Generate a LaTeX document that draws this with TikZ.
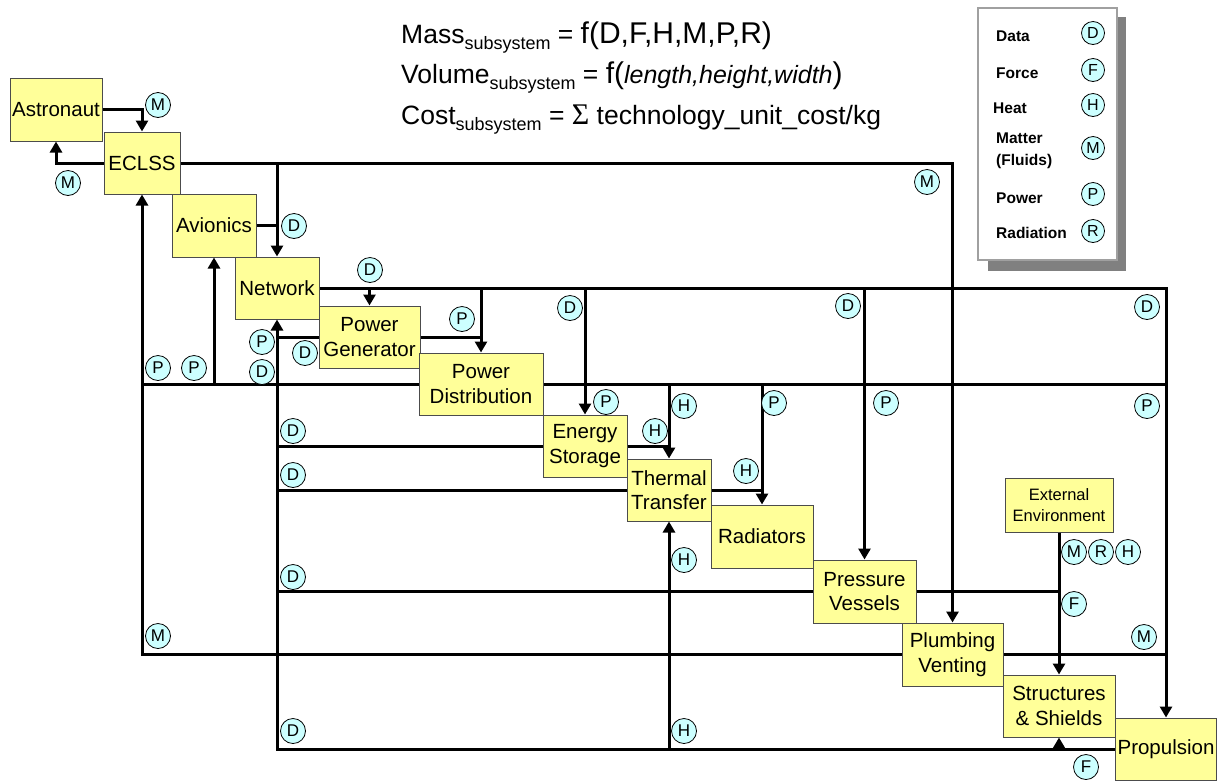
\documentclass[tikz,border=0pt]{standalone}
\usepackage{fontspec}
\setmainfont{Liberation Sans}
\newfontfamily\sigmafont{Liberation Serif}
\usetikzlibrary{arrows.meta}
\definecolor{byellow}{HTML}{FFFF99}
\definecolor{scyan}{HTML}{CCFFFF}
\definecolor{lgray}{HTML}{A0A0A0}
\definecolor{sgray}{HTML}{808080}
\newcommand{\subsys}{\raisebox{-6pt}{\fontsize{18}{18}\selectfont subsystem}}
\newcommand{\fbig}[1]{{\fontsize{30}{30}\selectfont #1}}
\tikzset{blk/.style = {draw=black!70, line width=1, fill=byellow, inner sep=1, align=center, font=\fontsize{20.5}{24.5}\selectfont}}
\tikzset{sig/.style = {draw, circle, fill=scyan, line width=0.8, inner sep=0, minimum size=25, font=\fontsize{17}{17}\selectfont}}
\tikzset{legsig/.style = {sig, minimum size=23, font=\fontsize{16}{16}\selectfont}}
\tikzset{legtxt/.style = {anchor=west, inner sep=0, align=left, font=\fontsize{15.5}{22}\selectfont\bfseries}}
\tikzset{formula/.style = {anchor=base west, inner sep=0, font=\fontsize{26.5}{26.5}\selectfont}}
\tikzset{conn/.style = {line width=3}}
\tikzset{arr/.style = {conn, -{Triangle[width=12pt, length=11pt]}}}

\begin{document}
\begin{tikzpicture}[x=1pt, y=-1pt]
    \useasboundingbox (0, 0) rectangle (1225, 780);

    \node [formula] (massf) at (401, 43) {Mass\subsys{} = \fbig{f(D,F,H,M,P,R)}};
    \node [formula] (volf) at (401, 83) {Volume\subsys{} = \fbig{f(}{\fontsize{25}{25}\selectfont\itshape length,height,width}\fbig{)}};
    \node [formula] (costf) at (401, 124) {Cost\subsys{} = \fbig{\sigmafont Σ} technology\_unit\_cost/kg};

    \fill [sgray] (988, 17) rectangle (1126, 271);
    \draw [lgray, line width=1.5, fill=white] (978, 8) rectangle (1117, 260);
    \foreach \nm/\txt/\ltr/\xx/\yy/\cy in {data/Data/D/996/36/33, force/Force/F/996/73/70, heat/Heat/H/993/108/105, matter/{Matter\\(Fluids)}/M/996/151/148, power/Power/P/996/198/194, rad/Radiation/R/996/233/231}{
      \node [legtxt] (leg-\nm) at (\xx, \yy) {\txt};
      \node [legsig] (legc-\nm) at (1093, \cy) {\ltr};
    }

    \node [blk, minimum width=92, minimum height=63] (astro) at (56, 109.5) {Astronaut};
    \node [blk, minimum width=76, minimum height=62] (eclss) at (142, 163) {ECLSS};
    \node [blk, minimum width=84, minimum height=63] (avion) at (214, 225.5) {Avionics};
    \node [blk, minimum width=84, minimum height=62] (netw) at (277, 288) {Network};
    \node [blk, minimum width=101, minimum height=62] (pgen) at (369.5, 337) {Power\\Generator};
    \node [blk, minimum width=124, minimum height=62] (pdist) at (481, 384) {Power\\Distribution};
    \node [blk, minimum width=84, minimum height=62] (estor) at (585, 446) {Energy\\Storage};
    \node [blk, minimum width=84, minimum height=62] (therm) at (669, 490) {Thermal\\Transfer};
    \node [blk, minimum width=102, minimum height=63] (radi) at (762, 536.5) {Radiators};
    \node [blk, minimum width=103, minimum height=63] (press) at (864.5, 591.5) {Pressure\\Vessels};
    \node [blk, minimum width=101, minimum height=63] (plumb) at (952.5, 654.5) {Plumbing\\Venting};
    \node [blk, minimum width=112, minimum height=62] (struc) at (1059, 706) {Structures\\\& Shields};
    \node [blk, minimum width=101, minimum height=62] (prop) at (1166, 749) {Propulsion};
    \node [blk, minimum width=108, minimum height=54, font=\fontsize{16.5}{21}\selectfont] (extenv) at (1059, 505) {External\\Environment};

    \draw [arr] (astro.east) -| (eclss.north);
    \draw [arr] (eclss.west) -| (astro.south);
    \draw [arr] (eclss.east) -| (plumb.north);
    \draw [arr] (eclss.east -| netw.north) -- (netw.north);
    \draw [conn] (avion.east) -- (avion.east -| netw.north);
    \draw [arr] (netw.east) -| (prop.north);
    \foreach \dst in {pgen, pdist, estor, press}{
      \draw [arr] (netw.east -| \dst.north) -- (\dst.north);
    }
    \draw [conn] (pgen.east) -- (pgen.east -| pdist.north);
    \draw [conn] (pdist.west) -- (pdist.west -| eclss.south);
    \draw [conn] (pdist.east) -- (pdist.east -| prop.north);
    \draw [arr] (pdist.west -| avion.south) -- (avion.south);
    \foreach \dst in {therm, radi}{
      \draw [arr] (pdist.east -| \dst.north) -- (\dst.north);
    }
    \draw [conn] (estor.east) -- (estor.east -| therm.north);
    \draw [conn] (therm.east) -- (therm.east -| radi.north);
    \draw [arr] (plumb.west) -| (eclss.south);
    \draw [conn] (plumb.east) -- (plumb.east -| prop.north);
    \draw [arr] (prop.west) -| (netw.south);
    \foreach \src in {pgen, estor, therm, press}{
      \draw [conn] (\src.west) -- (\src.west -| netw.south);
    }
    \draw [arr] (prop.west -| therm.south) -- (therm.south);
    \draw [arr] (prop.west -| struc.south) -- (struc.south);
    \draw [arr] (extenv.south) -- (struc.north);
    \draw [conn] (press.east) -- (press.east -| struc.north);

    \foreach \nm/\ltr/\x/\y in {m1/M/158/105, m2/M/68/183, d1/D/294/226, d2/D/370/270, m3/M/927/182, d3/D/570/308, d4/D/848/306, d5/D/1147/307, p1/P/462/319, p2/P/262/342, d6/D/305/353, p3/P/158/368, p4/P/194/368, d7/D/262/372, p5/P/606/402, h1/H/684/406, p6/P/774/403, p7/P/886/403, p8/P/1147/406, h2/H/655/431, d8/D/293/431, d9/D/293/475, h3/H/746/471, h4/H/684/560, d10/D/293/577, m4/M/1074/552, r1/R/1101/552, h5/H/1128/552, f1/F/1074/604, m5/M/158/636, m6/M/1144/637, d11/D/293/731, h6/H/684/731, f2/F/1086/767}{
      \node [sig] (\nm) at (\x, \y) {\ltr};
    }
  \end{tikzpicture}
\end{document}
